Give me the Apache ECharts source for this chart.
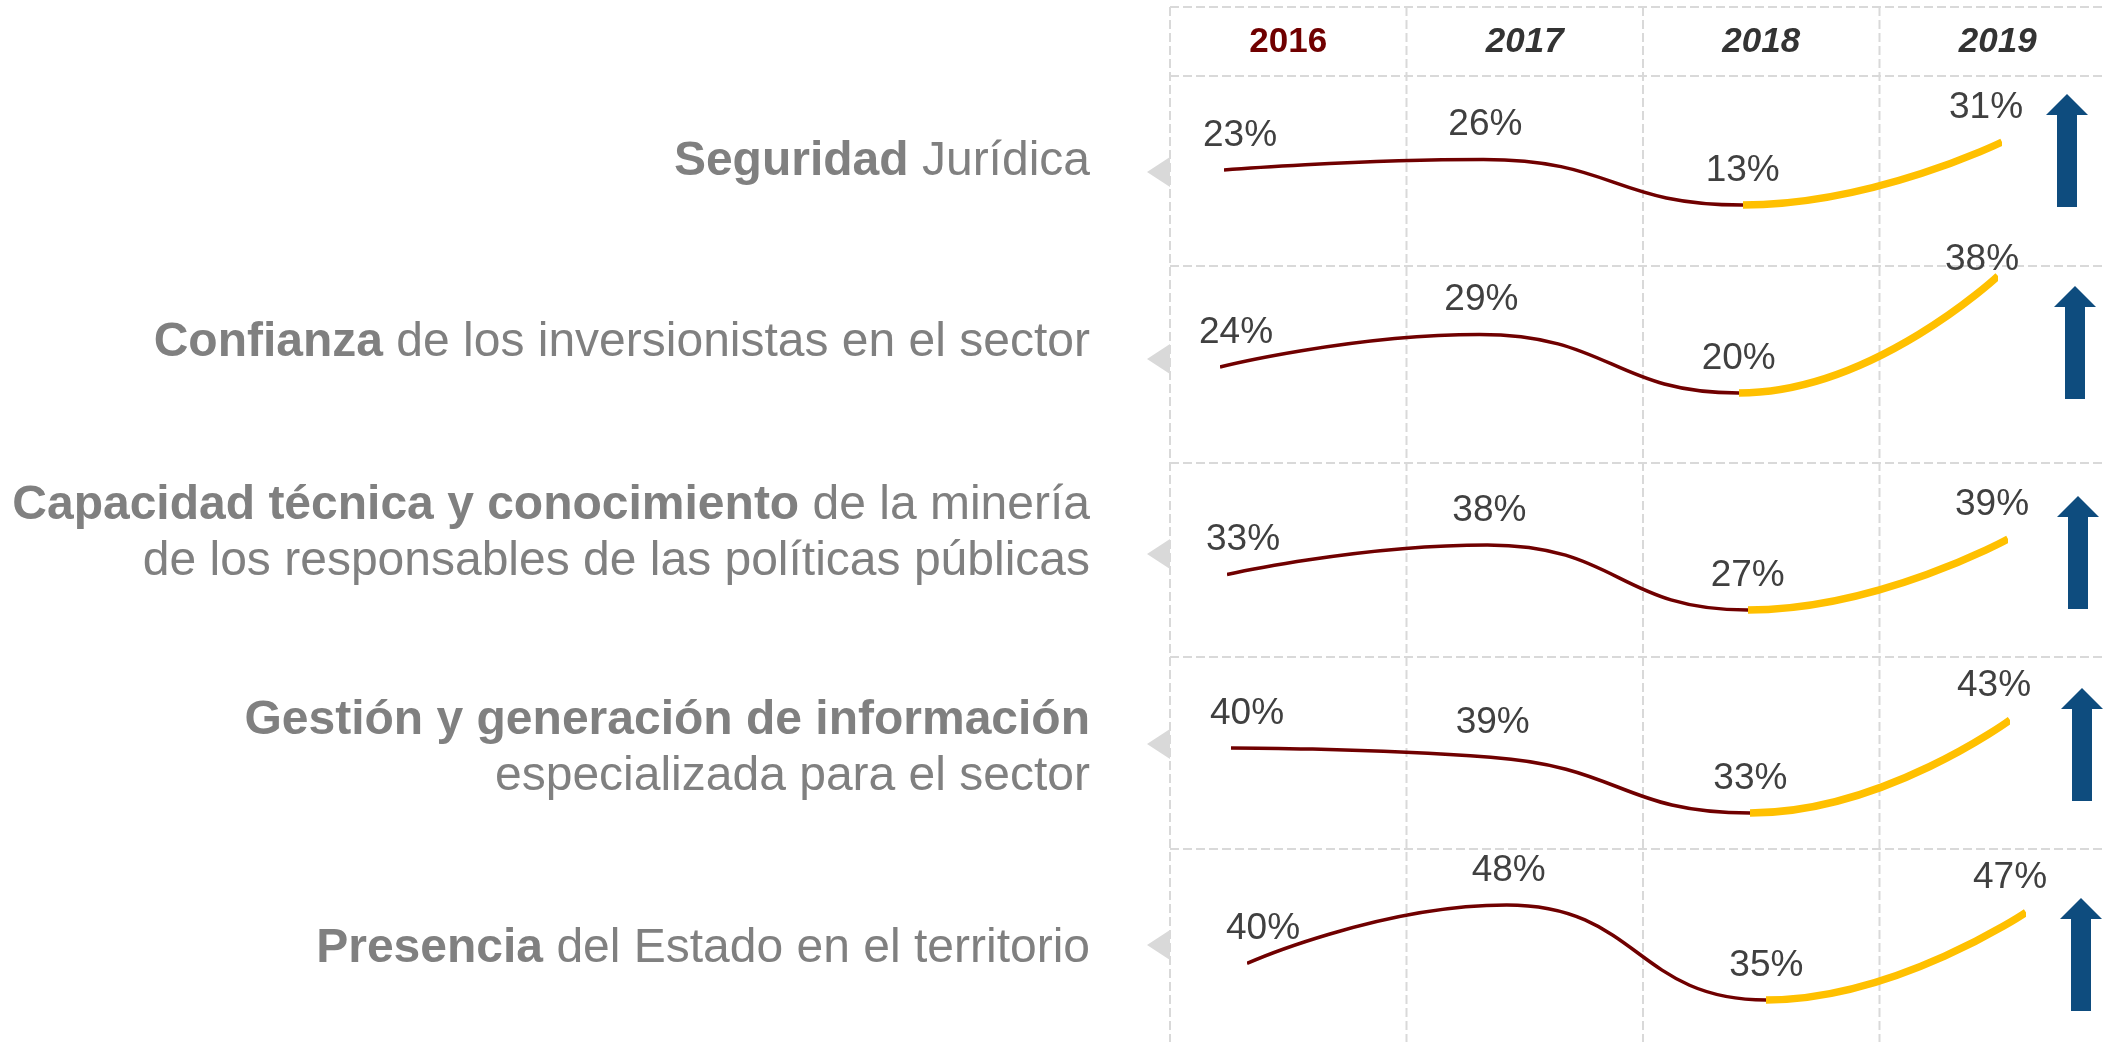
<!DOCTYPE html>
<html>
<head>
<meta charset="utf-8">
<title>Percepción del sector</title>
<script src="https://cdn.jsdelivr.net/npm/echarts@6/dist/echarts.min.js"></script>
<style>
  html, body { margin: 0; padding: 0; background: #fff; }
  #chart { width: 2103px; height: 1042px; }
</style>
</head>
<body>
<div id="chart"></div>
<script>
  // ---- data ----
  var years = ['2016', '2017', '2018', '2019'];
  var rowLabels = [
    '{b|Seguridad} Jurídica',
    '{b|Confianza} de los inversionistas en el sector',
    '{b|Capacidad técnica y conocimiento} de la minería\nde los responsables de las políticas públicas',
    '{b|Gestión y generación de información}\nespecializada para el sector',
    '{b|Presencia} del Estado en el territorio'
  ];
  var seguridad = [23, 26, 13, 31];
  var confianza = [24, 29, 20, 38];
  var capacidad = [33, 38, 27, 39];
  var gestion = [40, 39, 33, 43];
  var presencia = [40, 48, 35, 47];
  var rows = [seguridad, confianza, capacidad, gestion, presencia];

  // ---- layout ----
  var FONT = "'Liberation Sans', Arial, sans-serif";
  var MAROON = '#700000';
  var YELLOW = '#FFC000';
  var GRIDLINE = '#d9d9d9';
  var CLEAR = 'rgba(0,0,0,0)';
  var DASH = [9, 4];

  // pixel box of each small line chart (x of first/last year, y of max/min value)
  var rowBoxes = [
    {left: 1224, right: 2002, top: 142, bottom: 205},
    {left: 1220, right: 1998, top: 276, bottom: 393},
    {left: 1227, right: 2008, top: 539, bottom: 610},
    {left: 1231, right: 2010, top: 720, bottom: 813},
    {left: 1247, right: 2026, top: 905, bottom: 1000}
  ];
  var labelDx = [16, 2, 0, -16];
  var rowLabelY = [162, 343, 534, 749, 949];
  var pointerY = [172, 359, 554, 744, 945];
  var arrowX = [2067, 2075, 2078, 2082, 2081];
  var arrowTip = [94, 286, 496, 688, 898];
  var hLines = [7, 76, 266, 463, 657, 849];
  var vLines = [1170, 1406.5, 1643, 1879.5];

  var chart = echarts.init(document.getElementById('chart'));

  var option = {
    animation: false,
    backgroundColor: '#fff',
    grid: [{left: 1170, top: 76, width: 946, height: 966, outerBoundsMode: 'none'}],
    xAxis: [{
      type: 'category',
      data: years,
      position: 'top',
      boundaryGap: true,
      axisLine: {show: false},
      axisTick: {show: false},
      splitLine: {show: false},
      axisLabel: {
        interval: 0,
        margin: 16,
        fontSize: 35,
        fontWeight: 'bold',
        fontStyle: 'italic',
        fontFamily: FONT,
        color: '#333333',
        formatter: function (v) {
          return v === years[0] ? '{first|' + v + '}' : v;
        },
        rich: {
          first: {color: MAROON, fontStyle: 'normal', fontWeight: 'bold', fontSize: 35, fontFamily: FONT}
        }
      }
    }],
    yAxis: [{type: 'value', show: false}],
    visualMap: [],
    series: [],
    graphic: []
  };

  var maroonIdx = [], yellowIdx = [];

  rows.forEach(function (values, i) {
    var b = rowBoxes[i];
    var g = i + 1;
    option.grid.push({
      left: b.left, top: b.top,
      width: b.right - b.left, height: b.bottom - b.top,
      outerBoundsMode: 'none'
    });
    option.xAxis.push({gridIndex: g, type: 'category', data: years, boundaryGap: false, show: false});
    option.yAxis.push({
      gridIndex: g, type: 'value', show: false,
      min: Math.min.apply(null, values),
      max: Math.max.apply(null, values)
    });

    maroonIdx.push(option.series.length);
    option.series.push({
      type: 'line',
      xAxisIndex: g, yAxisIndex: g,
      smooth: 0.5,
      clip: false,
      z: 3,
      symbol: 'circle',
      symbolSize: 0,
      lineStyle: {width: 3.5},
      label: {
        show: true,
        position: 'top',
        distance: 16,
        color: '#404040',
        fontSize: 37,
        fontFamily: FONT,
        formatter: '{c}%'
      },
      data: values.map(function (v, j) {
        var dy = (i === 1 && j === 3) ? 18 : 0;
        return {value: v, label: {offset: [labelDx[j], dy]}};
      })
    });

    yellowIdx.push(option.series.length);
    option.series.push({
      type: 'line',
      xAxisIndex: g, yAxisIndex: g,
      smooth: 0.5,
      clip: false,
      z: 2,
      symbol: 'none',
      lineStyle: {width: 7.5},
      data: values
    });

    // row label on the left
    option.graphic.push({
      type: 'text',
      x: 1090, y: rowLabelY[i],
      style: {
        text: rowLabels[i],
        fill: '#808080',
        fontSize: 48,
        fontFamily: FONT,
        lineHeight: 56,
        align: 'right',
        verticalAlign: 'middle',
        rich: {
          b: {fontWeight: 'bold', fill: '#808080', fontSize: 48, fontFamily: FONT, lineHeight: 56}
        }
      }
    });

    // grey pointer on the grid edge
    var py = pointerY[i];
    option.graphic.push({
      type: 'polygon',
      shape: {points: [[1170, py - 15], [1170, py + 15], [1147, py]]},
      style: {fill: GRIDLINE}
    });

    // blue up arrow
    var ax = arrowX[i], at = arrowTip[i], ab = at + 113;
    option.graphic.push({
      type: 'polygon',
      shape: {points: [[ax, at], [ax + 21, at + 21], [ax + 10, at + 21], [ax + 10, ab],
                       [ax - 10, ab], [ax - 10, at + 21], [ax - 21, at + 21]]},
      style: {fill: '#0E4C7E'}
    });
  });

  // dashed table lines
  hLines.forEach(function (y) {
    option.graphic.push({
      type: 'line', z: -1,
      shape: {x1: 1170, y1: y, x2: 2103, y2: y},
      style: {stroke: GRIDLINE, lineWidth: 2, lineDash: DASH}
    });
  });
  vLines.forEach(function (x) {
    option.graphic.push({
      type: 'line', z: -1,
      shape: {x1: x, y1: 7, x2: x, y2: 1042},
      style: {stroke: GRIDLINE, lineWidth: 2, lineDash: DASH}
    });
  });

  // colour the 2016-2018 stretch maroon and the 2018-2019 stretch yellow
  option.visualMap = [
    {
      type: 'piecewise', show: false, dimension: 0, seriesIndex: maroonIdx,
      pieces: [{gte: 0, lte: 2, color: MAROON}, {gt: 2, lte: 3, color: CLEAR}],
      outOfRange: {color: CLEAR}
    },
    {
      type: 'piecewise', show: false, dimension: 0, seriesIndex: yellowIdx,
      pieces: [{gte: 0, lt: 2, color: CLEAR}, {gte: 2, lte: 3, color: YELLOW}],
      outOfRange: {color: CLEAR}
    }
  ];

  chart.setOption(option);
</script>
</body>
</html>
